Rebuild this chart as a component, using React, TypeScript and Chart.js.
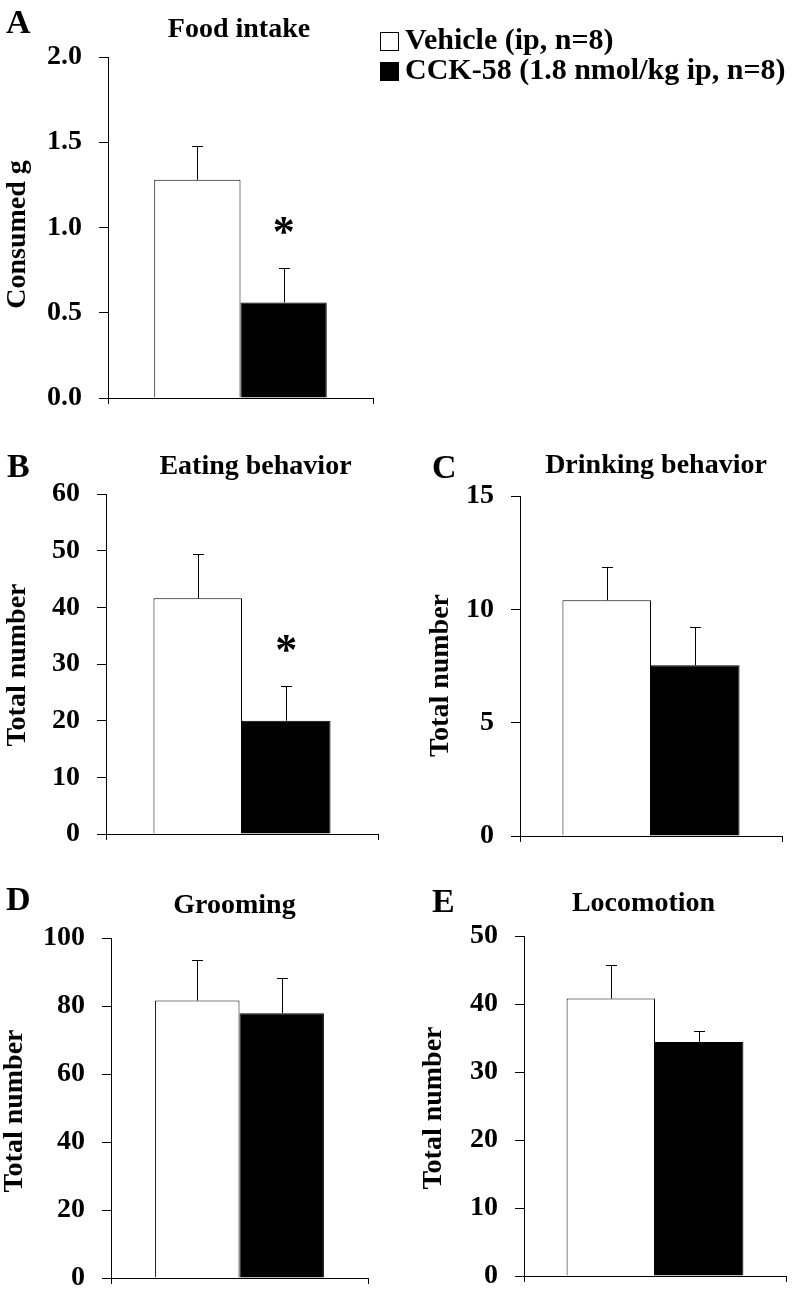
import React, { useEffect, useRef } from "react";
import { Chart, registerables } from "chart.js";

Chart.register(...registerables);

// ---------- data ----------
const seriesLabels = ["Vehicle (ip, n=8)", "CCK-58 (1.8 nmol/kg ip, n=8)"];
const panelLetters = ["A", "B", "C", "D", "E"];
const panelTitles = ["Food intake", "Eating behavior", "Drinking behavior", "Grooming", "Locomotion"];
const yAxisTitles = ["Consumed g", "Total number", "Total number", "Total number", "Total number"];
const vehicleMean = [1.28, 41.6, 10.4, 81.6, 40.8];
const vehicleSem = [0.2, 7.9, 1.48, 11.8, 4.9];
const cckMean = [0.56, 20.0, 7.53, 77.9, 34.4];
const cckSem = [0.2, 6.1, 1.69, 10.2, 1.56];
const yMax = [2, 60, 15, 100, 50];
const yStep = [0.5, 10, 5, 20, 10];
const tickDecimals = [1, 0, 0, 0, 0];
const cckSignificant = [true, true, false, false, false];

// ---------- layout (absolute page px) ----------
type Layout = {
  box: [number, number, number, number];
  plot: [number, number, number, number];
  letter: [number, number];
  title: [number, number];
  yTitle: [number, number];
  pct: number;
  legend?: boolean;
};
const layouts: Layout[] = [
  { box: [0, 0, 796, 420], plot: [108, 57, 373, 398], letter: [6, 33], title: [239, 37], yTitle: [17.5, 234.5], pct: 0.651, legend: true },
  { box: [0, 420, 400, 440], plot: [106, 494, 378, 834], letter: [7, 477], title: [255.5, 474], yTitle: [17.5, 665], pct: 0.651 },
  { box: [400, 420, 396, 440], plot: [520, 496, 782, 836], letter: [432, 478], title: [656, 473], yTitle: [441, 675.5], pct: 0.676 },
  { box: [0, 860, 400, 439], plot: [111, 938, 368, 1278], letter: [6, 910], title: [234.5, 912.5], yTitle: [15, 1111], pct: 0.657 },
  { box: [400, 860, 396, 439], plot: [524, 936, 786, 1276], letter: [432, 911.5], title: [643.5, 911], yTitle: [434, 1108], pct: 0.675 },
];

const SERIF = '"Times New Roman", "Liberation Serif", Times, serif';

function makeOverlay(i: number, L: Layout) {
  const [bx, by] = L.box;
  return {
    id: "overlay" + i,
    afterDraw(chart: any) {
      const ctx = chart.ctx as CanvasRenderingContext2D;
      const ys = chart.scales.y;
      const means = [vehicleMean[i], cckMean[i]];
      const sems = [vehicleSem[i], cckSem[i]];
      ctx.save();
      ctx.strokeStyle = "#000";
      ctx.fillStyle = "#000";
      ctx.lineWidth = 1;
      // error bars (upper only)
      for (let d = 0; d < 2; d++) {
        const bar: any = chart.getDatasetMeta(d).data[0];
        const x = Math.round(bar.x) + 0.5;
        const yTop = ys.getPixelForValue(means[d]);
        const yErr = Math.round(ys.getPixelForValue(means[d] + sems[d])) + 0.5;
        ctx.beginPath();
        ctx.moveTo(x, yTop);
        ctx.lineTo(x, yErr);
        ctx.moveTo(x - 5.5, yErr);
        ctx.lineTo(x + 5.5, yErr);
        ctx.stroke();
        if (d === 1 && cckSignificant[i]) {
          ctx.font = "bold 44px " + SERIF;
          const m = ctx.measureText("*");
          const cy = yErr - 43;
          const h = m.actualBoundingBoxAscent + m.actualBoundingBoxDescent;
          const w = m.actualBoundingBoxLeft + m.actualBoundingBoxRight;
          ctx.textBaseline = "alphabetic";
          ctx.textAlign = "left";
          ctx.fillText("*", bar.x - w / 2 + m.actualBoundingBoxLeft, cy + h / 2 - m.actualBoundingBoxDescent);
        }
      }
      // panel letter
      ctx.textBaseline = "alphabetic";
      ctx.textAlign = "left";
      ctx.font = "bold 34px " + SERIF;
      ctx.fillText(panelLetters[i], L.letter[0] - bx, L.letter[1] - by);
      // title
      ctx.textAlign = "center";
      ctx.font = "bold 28px " + SERIF;
      ctx.fillText(panelTitles[i], L.title[0] - bx, L.title[1] - by);
      // y-axis title
      ctx.save();
      ctx.translate(L.yTitle[0] - bx, L.yTitle[1] - by);
      ctx.rotate(-Math.PI / 2);
      ctx.textAlign = "center";
      ctx.textBaseline = "middle";
      ctx.font = "bold 28px " + SERIF;
      ctx.fillText(yAxisTitles[i], 0, 0);
      ctx.restore();
      // legend
      if (L.legend) {
        const fills = ["#fff", "#000"];
        ctx.textAlign = "left";
        ctx.textBaseline = "alphabetic";
        ctx.font = "bold 30px " + SERIF;
        for (let d = 0; d < 2; d++) {
          const top = 32 + d * 30 - by;
          ctx.fillStyle = fills[d];
          ctx.fillRect(380.5 - bx, top + 0.5, 18, 18);
          ctx.strokeStyle = "#000";
          ctx.strokeRect(380.5 - bx, top + 0.5, 18, 18);
          ctx.fillStyle = "#000";
          ctx.fillText(seriesLabels[d], 405 - bx, 49 + d * 30 - by);
        }
      }
      ctx.restore();
    },
  };
}

function Panel({ i }: { i: number }) {
  const ref = useRef<HTMLCanvasElement | null>(null);
  const L = layouts[i];
  useEffect(() => {
    const [bx, by, bw, bh] = L.box;
    const [pl, pt, pr, pb] = L.plot;
    const font = { family: SERIF, size: 28, weight: "bold" as const };
    const chart = new Chart(ref.current as HTMLCanvasElement, {
      type: "bar",
      data: {
        labels: [""],
        datasets: [
          { label: seriesLabels[0], data: [vehicleMean[i]], backgroundColor: "#ffffff", borderColor: "#000000", borderWidth: 1 },
          { label: seriesLabels[1], data: [cckMean[i]], backgroundColor: "#000000", borderColor: "#000000", borderWidth: 1 },
        ],
      },
      options: {
        animation: false,
        responsive: false,
        maintainAspectRatio: false,
        devicePixelRatio: 1,
        events: [],
        layout: { padding: { left: 0, top: pt - by, right: bx + bw - pr, bottom: 0 } },
        datasets: { bar: { categoryPercentage: L.pct, barPercentage: 1 } },
        plugins: { legend: { display: false }, tooltip: { enabled: false }, title: { display: false } },
        scales: {
          x: {
            grid: { display: true, drawOnChartArea: false, drawTicks: true, tickLength: 6, color: "#000", offset: true },
            border: { display: true, color: "#000", width: 1 },
            ticks: { display: false },
            afterFit: (s: any) => { s.height = by + bh - pb; s.paddingLeft = 0; s.paddingRight = 0; },
          },
          y: {
            min: 0,
            max: yMax[i],
            ticks: {
              stepSize: yStep[i],
              font,
              color: "#000",
              padding: 17,
              callback: (v: any) => Number(v).toFixed(tickDecimals[i]),
            },
            grid: { display: true, drawOnChartArea: false, drawTicks: true, tickLength: 9, color: "#000" },
            border: { display: true, color: "#000", width: 1 },
            afterFit: (s: any) => { s.width = pl - bx; s.paddingTop = 0; s.paddingBottom = 0; },
          },
        },
      },
      plugins: [makeOverlay(i, L)],
    });
    return () => chart.destroy();
  }, []);
  const [bx, by, bw, bh] = L.box;
  return (
    <canvas
      ref={ref}
      width={bw}
      height={bh}
      style={{ position: "absolute", left: bx, top: by, width: bw, height: bh }}
    />
  );
}

export default function App() {
  return (
    <div style={{ position: "absolute", left: 0, top: 0, width: 796, height: 1299, background: "#fff", overflow: "hidden" }}>
      {layouts.map((_, i) => (
        <Panel key={i} i={i} />
      ))}
    </div>
  );
}
